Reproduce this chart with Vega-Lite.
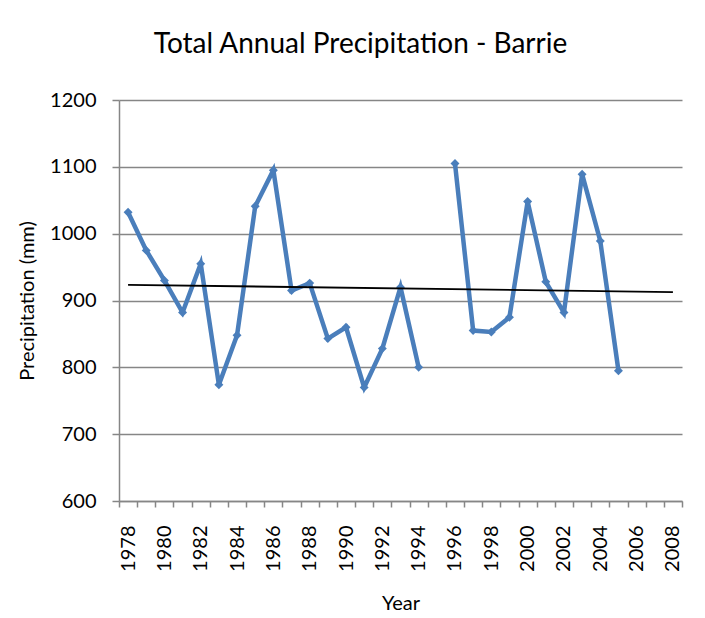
{
  "$schema": "https://vega.github.io/schema/vega-lite/v6.json",
  "width": 563,
  "height": 401,
  "autosize": {"type": "none"},
  "padding": {"left": 119, "top": 100, "right": 23, "bottom": 117},
  "background": "white",
  "title": {
    "text": "Total Annual Precipitation  - Barrie",
    "font": "Lato",
    "fontSize": 28,
    "fontWeight": "normal",
    "color": "#000000",
    "anchor": "middle",
    "dx": -40,
    "offset": 31
  },
  "config": {
    "view": {"stroke": null},
    "axis": {
      "labelFont": "Lato",
      "titleFont": "Lato",
      "labelFontSize": 20,
      "titleFontSize": 20,
      "titleFontWeight": "normal",
      "labelColor": "#000000",
      "titleColor": "#000000",
      "domainColor": "#868686",
      "tickColor": "#868686",
      "gridColor": "#868686",
      "domainWidth": 1.5,
      "tickWidth": 1.5,
      "gridWidth": 1.5
    }
  },
  "datasets": {
    "precip": [
      {"Year": 1978, "Precipitation": 1032},
      {"Year": 1979, "Precipitation": 975},
      {"Year": 1980, "Precipitation": 930},
      {"Year": 1981, "Precipitation": 882},
      {"Year": 1982, "Precipitation": 955},
      {"Year": 1983, "Precipitation": 774},
      {"Year": 1984, "Precipitation": 848},
      {"Year": 1985, "Precipitation": 1041},
      {"Year": 1986, "Precipitation": 1095},
      {"Year": 1987, "Precipitation": 915},
      {"Year": 1988, "Precipitation": 926},
      {"Year": 1989, "Precipitation": 843},
      {"Year": 1990, "Precipitation": 860},
      {"Year": 1991, "Precipitation": 770},
      {"Year": 1992, "Precipitation": 828},
      {"Year": 1993, "Precipitation": 920},
      {"Year": 1994, "Precipitation": 800},
      {"Year": 1995, "Precipitation": null},
      {"Year": 1996, "Precipitation": 1105},
      {"Year": 1997, "Precipitation": 855},
      {"Year": 1998, "Precipitation": 853},
      {"Year": 1999, "Precipitation": 875},
      {"Year": 2000, "Precipitation": 1048},
      {"Year": 2001, "Precipitation": 928},
      {"Year": 2002, "Precipitation": 882},
      {"Year": 2003, "Precipitation": 1089},
      {"Year": 2004, "Precipitation": 989},
      {"Year": 2005, "Precipitation": 795}
    ],
    "trend": [
      {"Year": 1978, "Precipitation": 923.5},
      {"Year": 2008, "Precipitation": 912.5}
    ]
  },
  "layer": [
    {
      "data": {"name": "precip"},
      "mark": {"type": "line", "color": "#4A7EBB", "strokeWidth": 4.5, "invalid": "break-paths-show-domains"},
      "encoding": {
        "x": {
          "field": "Year",
          "type": "ordinal",
          "bandPosition": 0.5,
          "scale": {
            "type": "band",
            "domain": [1978,1979,1980,1981,1982,1983,1984,1985,1986,1987,1988,1989,1990,1991,1992,1993,1994,1995,1996,1997,1998,1999,2000,2001,2002,2003,2004,2005,2006,2007,2008],
            "paddingInner": 0,
            "paddingOuter": 0
          },
          "axis": {
            "title": "Year",
            "labelAngle": -90,
            "labelAlign": "right",
            "labelBaseline": "middle",
            "labelExpr": "datum.value % 2 == 0 ? datum.label : ''",
            "tickBand": "extent",
            "tickSize": 6,
            "labelPadding": 18,
            "titlePadding": 22,
            "grid": false
          }
        },
        "y": {
          "field": "Precipitation",
          "type": "quantitative",
          "scale": {"domain": [600, 1200], "nice": false, "zero": false},
          "axis": {
            "title": "Precipitation (mm)",
            "values": [600, 700, 800, 900, 1000, 1100, 1200],
            "format": "d",
            "tickSize": 7,
            "labelPadding": 16,
            "titlePadding": 12,
            "grid": true
          }
        }
      }
    },
    {
      "data": {"name": "precip"},
      "mark": {"type": "point", "shape": "diamond", "filled": true, "color": "#4A7EBB", "size": 80, "opacity": 1},
      "encoding": {
        "x": {"field": "Year", "type": "ordinal", "bandPosition": 0.5},
        "y": {"field": "Precipitation", "type": "quantitative"}
      }
    },
    {
      "data": {"name": "trend"},
      "mark": {"type": "line", "color": "#000000", "strokeWidth": 1.8},
      "encoding": {
        "x": {"field": "Year", "type": "ordinal", "bandPosition": 0.5},
        "y": {"field": "Precipitation", "type": "quantitative"}
      }
    }
  ]
}
